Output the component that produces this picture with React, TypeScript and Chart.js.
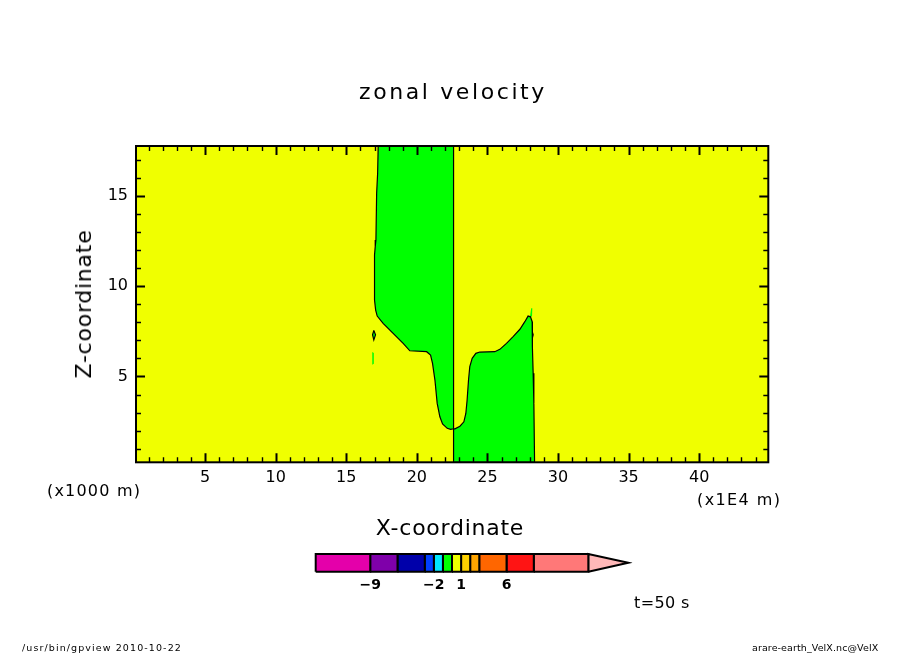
import React, { useEffect, useRef } from 'react';
import { Chart, registerables } from 'chart.js';

Chart.register(...registerables);

// ---------- data ----------
const X_RANGE = [0.1, 44.9];
const Y_RANGE = [0.25, 17.75];
const X_TICKS = [5, 10, 15, 20, 25, 30, 35, 40];
const Y_TICKS = [5, 10, 15];

// contour levels of the colour bar and their fill colours
const LEVELS = [-15, -9, -6, -3, -2, -1, 0, 1, 2, 3, 6, 9, 15];
const LEVEL_COLORS = [
  '#e400aa', '#7f00aa', '#0000aa', '#0040ff', '#00e8ff', '#00ff00',
  '#f0ff00', '#ffd200', '#ffa500', '#ff6600', '#ff1414', '#ff7878',
];
const OVER_COLOR = '#ffb8b8';
const CB_TICKS = [-9, -2, 1, 6];
const CB_TIP = 19.4;

// -1..0 region, upper-left lobe (x in 1E4 m, z in 1000 m)
const LOBE_WEST: [number, number][] = [
  [17.26, 17.75], [17.22, 16.24], [17.15, 15.13], [17.10, 12.55], [17.05, 12.18],
  [17.00, 11.72], [17.00, 9.23], [17.08, 8.67], [17.19, 8.34], [17.61, 7.94],
  [18.32, 7.38], [19.03, 6.83], [19.50, 6.42], [20.69, 6.37], [20.97, 6.18],
  [21.11, 5.72], [21.28, 4.80], [21.44, 3.51], [21.63, 2.77], [21.82, 2.37],
  [22.15, 2.13], [22.39, 2.07], [22.60, 2.10], [22.60, 17.75], [17.26, 17.75],
];
// -1..0 region, lower-right lobe
const LOBE_EAST: [number, number][] = [
  [22.60, 0.25], [22.60, 2.10], [22.70, 2.10], [23.05, 2.25], [23.33, 2.49],
  [23.47, 2.95], [23.56, 3.69], [23.66, 4.80], [23.75, 5.54], [23.92, 6.00],
  [24.18, 6.28], [24.46, 6.35], [25.52, 6.37], [25.88, 6.50], [26.35, 6.83],
  [26.82, 7.20], [27.30, 7.61], [27.65, 8.03], [27.88, 8.34], [28.05, 8.30],
  [28.17, 8.03], [28.17, 7.57], [28.20, 6.64], [28.24, 5.17], [28.29, 3.51],
  [28.34, 0.25], [22.60, 0.25],
];
const SPECK_LOOP_W: [number, number][] = [
  [16.95, 7.55], [17.07, 7.30], [16.95, 7.02], [16.86, 7.30], [16.95, 7.55],
];
const SPECK_SLIVER_W: [number, number][] = [
  [16.84, 6.35], [16.95, 6.30], [16.95, 5.70], [16.84, 5.65],
];
const SPECK_SLIVER_E: [number, number][] = [
  [28.02, 8.35], [28.10, 8.78], [28.18, 8.78], [28.16, 8.30],
];
const HOLE_LOOP_E: [number, number][] = [
  [28.13, 7.60], [28.24, 7.30], [28.15, 7.02], [28.06, 7.30], [28.13, 7.60],
];

const FONT = '"DejaVu Sans", "Noto Sans", sans-serif';

const toPts = (a: [number, number][]) => a.map(([x, y]) => ({ x, y }));

function poly(points: [number, number][], fillColor: string, border: boolean) {
  return {
    data: toPts(points),
    showLine: true,
    fill: 'shape',
    backgroundColor: fillColor,
    borderColor: border ? '#000' : fillColor,
    borderWidth: border ? 1.2 : 0,
    pointRadius: 0,
    tension: 0,
  } as any;
}

const areaBg = {
  id: 'areaBg',
  beforeDatasetsDraw(chart: any) {
    const { ctx, chartArea: a } = chart;
    ctx.save();
    ctx.fillStyle = LEVEL_COLORS[6];
    ctx.fillRect(a.left, a.top, a.right - a.left, a.bottom - a.top);
    ctx.restore();
  },
};

const frameTicks = {
  id: 'frameTicks',
  afterDatasetsDraw(chart: any) {
    const { ctx, chartArea: a, scales } = chart;
    const x = scales.x;
    const y = scales.y;
    ctx.save();
    ctx.strokeStyle = '#000';
    for (let v = Math.ceil(x.min); v <= x.max; v++) {
      const p = Math.round(x.getPixelForValue(v)) + 0.5;
      const major = v % 5 === 0;
      const len = major ? 9 : 5;
      ctx.lineWidth = major ? 2 : 1.4;
      ctx.beginPath();
      ctx.moveTo(p, a.bottom);
      ctx.lineTo(p, a.bottom - len);
      ctx.moveTo(p, a.top);
      ctx.lineTo(p, a.top + len);
      ctx.stroke();
    }
    for (let v = Math.ceil(y.min); v <= y.max; v++) {
      const p = Math.round(y.getPixelForValue(v)) + 0.5;
      const major = v % 5 === 0;
      const len = major ? 9 : 5;
      ctx.lineWidth = major ? 2 : 1.4;
      ctx.beginPath();
      ctx.moveTo(a.left, p);
      ctx.lineTo(a.left + len, p);
      ctx.moveTo(a.right, p);
      ctx.lineTo(a.right - len, p);
      ctx.stroke();
    }
    ctx.lineWidth = 2;
    ctx.strokeRect(a.left, a.top, a.right - a.left, a.bottom - a.top);
    ctx.restore();
  },
};

const fmtMinus = (v: number) => (v < 0 ? '\u2212' + Math.abs(v) : String(v));

function Label(props: {
  text: string; x: number; y: number; size: number; spacing?: number;
  align?: 'left' | 'center'; rotate?: boolean; bold?: boolean;
}) {
  const { text, x, y, size, spacing = 0, align = 'left', rotate = false, bold = false } = props;
  const style: React.CSSProperties = {
    position: 'absolute',
    whiteSpace: 'nowrap',
    fontFamily: FONT,
    fontSize: size,
    lineHeight: 1,
    letterSpacing: spacing,
    fontWeight: bold ? 'bold' : 'normal',
    color: '#000',
    left: x,
  };
  if (rotate) {
    style.top = y;
    style.transform = 'translate(-50%, -50%) rotate(-90deg)';
  } else {
    // y is the text baseline
    style.top = y - 0.846 * size;
    if (align === 'center') style.transform = 'translateX(-50%)';
  }
  return <div style={style}>{text}</div>;
}

// scale box sizes (the chart area edges are set by padding + these)
const Y_BOX = 60;
const X_BOX = 40;
const CB_BOX = 30;

export default function App() {
  const mainRef = useRef<HTMLCanvasElement>(null);
  const barRef = useRef<HTMLCanvasElement>(null);

  useEffect(() => {
    const tickFont = { family: FONT, size: 16 };
    const noGrid = { display: false, drawTicks: false };
    const main = new Chart(mainRef.current!, {
      type: 'scatter',
      data: {
        datasets: [
          poly(LOBE_WEST, LEVEL_COLORS[5], true),
          poly(LOBE_EAST, LEVEL_COLORS[5], true),
          poly(SPECK_SLIVER_W, LEVEL_COLORS[5], false),
          poly(SPECK_SLIVER_E, LEVEL_COLORS[5], false),
          poly(SPECK_LOOP_W, LEVEL_COLORS[5], true),
          poly(HOLE_LOOP_E, LEVEL_COLORS[6], true),
        ],
      },
      options: {
        animation: false,
        responsive: false,
        maintainAspectRatio: false,
        events: [],
        layout: { padding: { left: 136 - Y_BOX, top: 146, right: 904 - 768.3, bottom: 654 - 462.3 - X_BOX } },
        plugins: { legend: { display: false }, tooltip: { enabled: false }, title: { display: false } },
        scales: {
          x: {
            type: 'linear',
            min: X_RANGE[0],
            max: X_RANGE[1],
            grid: noGrid,
            border: { display: false },
            ticks: { padding: 6, color: '#000', font: tickFont, maxRotation: 0, autoSkip: false },
            afterBuildTicks: (s: any) => { s.ticks = X_TICKS.map((value) => ({ value })); },
            afterFit: (s: any) => { s.height = X_BOX; },
          },
          y: {
            type: 'linear',
            min: Y_RANGE[0],
            max: Y_RANGE[1],
            grid: noGrid,
            border: { display: false },
            ticks: { padding: 8, color: '#000', font: tickFont, autoSkip: false },
            afterBuildTicks: (s: any) => { s.ticks = Y_TICKS.map((value) => ({ value })); },
            afterFit: (s: any) => { s.width = Y_BOX; },
          },
        },
      } as any,
      plugins: [areaBg, frameTicks],
    });

    const segs = LEVEL_COLORS.map((c, i) => ({
      data: [
        { x: LEVELS[i], y: 0 }, { x: LEVELS[i + 1], y: 0 },
        { x: LEVELS[i + 1], y: 1 }, { x: LEVELS[i], y: 1 }, { x: LEVELS[i], y: 0 },
      ],
      showLine: true,
      fill: 'shape',
      backgroundColor: c,
      borderColor: '#000',
      borderWidth: 2,
      pointRadius: 0,
      clip: 4,
    }));
    const top = LEVELS[LEVELS.length - 1];
    segs.push({
      data: [{ x: top, y: 0 }, { x: CB_TIP, y: 0.5 }, { x: top, y: 1 }, { x: top, y: 0 }],
      showLine: true,
      fill: 'shape',
      backgroundColor: OVER_COLOR,
      borderColor: '#000',
      borderWidth: 2,
      pointRadius: 0,
      clip: 4,
    } as any);

    const bar = new Chart(barRef.current!, {
      type: 'scatter',
      data: { datasets: segs as any },
      options: {
        animation: false,
        responsive: false,
        maintainAspectRatio: false,
        events: [],
        layout: { padding: { left: 315.7 - 290, right: 650 - 628.3, top: 554 - 530, bottom: 610 - 571.7 - CB_BOX } },
        plugins: { legend: { display: false }, tooltip: { enabled: false } },
        scales: {
          x: {
            type: 'linear',
            min: LEVELS[0],
            max: CB_TIP,
            grid: noGrid,
            border: { display: false },
            ticks: {
              padding: 5, color: '#000', font: { family: FONT, size: 14, weight: 'bold' },
              maxRotation: 0, autoSkip: false,
              callback: (v: any) => fmtMinus(Number(v)),
            },
            afterBuildTicks: (s: any) => { s.ticks = CB_TICKS.map((value) => ({ value })); },
            afterFit: (s: any) => { s.height = CB_BOX; },
          },
          y: { type: 'linear', min: 0, max: 1, display: false },
        },
      } as any,
    });

    return () => {
      main.destroy();
      bar.destroy();
    };
  }, []);

  return (
    <div style={{ position: 'fixed', left: 0, top: 0, width: 904, height: 654, background: '#fff', overflow: 'hidden' }}>
      <canvas ref={mainRef} width={904} height={654} style={{ position: 'absolute', left: 0, top: 0, width: 904, height: 654 }} />
      <canvas ref={barRef} width={360} height={80} style={{ position: 'absolute', left: 290, top: 530, width: 360, height: 80 }} />
      <Label text="zonal velocity" x={453} y={100} size={22} spacing={2.6} align="center" />
      <Label text="X-coordinate" x={450} y={536} size={22} spacing={0.75} align="center" />
      <Label text="Z-coordinate" x={84} y={304} size={22} spacing={0.75} rotate />
      <Label text="(x1000 m)" x={47} y={497} size={16} spacing={1.2} />
      <Label text="(x1E4 m)" x={697} y={506} size={16} spacing={1.4} />
      <Label text="t=50 s" x={634} y={609} size={16} spacing={0.4} />
      <Label text="/usr/bin/gpview  2010-10-22" x={22} y={651} size={9.5} spacing={1.1} />
      <Label text="arare-earth_VelX.nc@VelX" x={752} y={651} size={9.5} spacing={0.1} />
    </div>
  );
}
